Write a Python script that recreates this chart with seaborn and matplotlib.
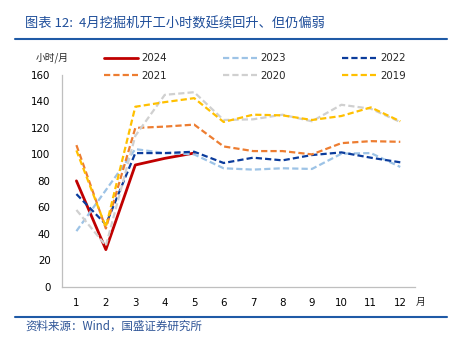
import matplotlib
matplotlib.use("Agg")
import matplotlib.pyplot as plt
import matplotlib.lines as mlines
import seaborn as sns
import pandas as pd

months = list(range(1, 13))
y2024 = [80, 28, 92, 97, 101]
y2023 = [42, 73, 104, 101, 100, 89.5, 88.5, 89.5, 89, 100.5, 101, 90.5]
y2022 = [70, 47, 101, 101, 102, 93.5, 97.5, 95.5, 99.5, 101.5, 97.5, 94]
y2021 = [107, 44, 120, 121, 122.5, 106, 102.5, 102.5, 100, 108.5, 110, 109.5]
y2020 = [58, 31, 114, 145, 147, 126, 126.5, 130, 125, 137.5, 134.5, 124.5]
y2019 = [103, 45, 136, 139.5, 142.5, 124.5, 130, 129.5, 126, 129, 135.5, 125]
yticks = [0, 20, 40, 60, 80, 100, 120, 140, 160]

series = [
    ("2024", y2024, "#C00000", "-", 2.0),
    ("2023", y2023, "#9DC3E6", (0, (2.8, 1.4)), 1.6),
    ("2022", y2022, "#0B3C9C", (0, (2.8, 1.4)), 1.6),
    ("2021", y2021, "#ED7D31", (0, (2.8, 1.4)), 1.6),
    ("2020", y2020, "#D0D0D0", (0, (2.8, 1.4)), 1.6),
    ("2019", y2019, "#FFC000", (0, (2.8, 1.4)), 1.6),
]

sns.set_theme(style="white")
plt.rcParams['font.family'] = ['DejaVu Sans', 'Noto Sans CJK SC']

W, H = 453, 346
fig = plt.figure(figsize=(W / 100, H / 100), dpi=100)
ax = fig.add_axes([61.7 / W, 1 - 286.7 / H, (415 - 61.7) / W, (286.7 - 75) / H])

handles = {}
for name, vals, color, ls, lw in series:
    df = pd.DataFrame({"month": months[:len(vals)], "value": vals})
    sns.lineplot(data=df, x="month", y="value", ax=ax, color=color, linestyle=ls,
                 linewidth=lw, legend=False)
    handles[name] = mlines.Line2D([], [], color=color, linestyle=ls, linewidth=lw)

ax.set_xlim(0.5, 12.5)
ax.set_ylim(0, 160)
ax.set_xticks(months)
ax.set_xticklabels([str(m) for m in months])
ax.set_yticks(yticks)
ax.set_xlabel("")
ax.set_ylabel("")
ax.tick_params(axis="both", length=0, labelsize=7.4, colors="#000000")
ax.tick_params(axis="y", pad=8)
ax.tick_params(axis="x", pad=8)
for s in ["top", "right"]:
    ax.spines[s].set_visible(False)
for s in ["left", "bottom"]:
    ax.spines[s].set_color("#BFBFBF")
    ax.spines[s].set_linewidth(0.9)
ax.grid(False)

order = ["2024", "2021", "2023", "2020", "2022", "2019"]
leg = fig.legend([handles[k] for k in order], order, ncol=3, loc="center left",
                 bbox_to_anchor=(104 / W, 1 - 67 / H), frameon=False, fontsize=7.4,
                 handlelength=3.3, handletextpad=0.35, columnspacing=5.45,
                 labelspacing=0.7, borderaxespad=0, borderpad=0)

cjk = ['Noto Sans CJK SC', 'DejaVu Sans']
fig.text(52 / W, 1 - 57.5 / H, "小时/月", fontsize=7, ha="center", va="center", family=cjk)
fig.text(421 / W, 1 - 302 / H, "月", fontsize=7, ha="center", va="center", family=cjk)

fig.text(25 / W, 1 - 24 / H, "图表 12:  4月挖掘机开工小时数延续回升、但仍偏弱", fontsize=9.5,
         ha="left", va="center", color="#1F4E9A", family=cjk, style="italic")
fig.add_artist(mlines.Line2D([15 / W, 447 / W], [1 - 38.7 / H, 1 - 38.7 / H],
                             color="#1F5AA6", linewidth=1.5))
fig.add_artist(mlines.Line2D([15 / W, 447 / W], [1 - 316.5 / H, 1 - 316.5 / H],
                             color="#1F5AA6", linewidth=1.5))
fig.text(25 / W, 1 - 326 / H, "资料来源：Wind，国盛证券研究所", fontsize=8.3,
         ha="left", va="center", color="#2F5597", family=cjk, style="italic")

fig.savefig("out.png", dpi=100)
